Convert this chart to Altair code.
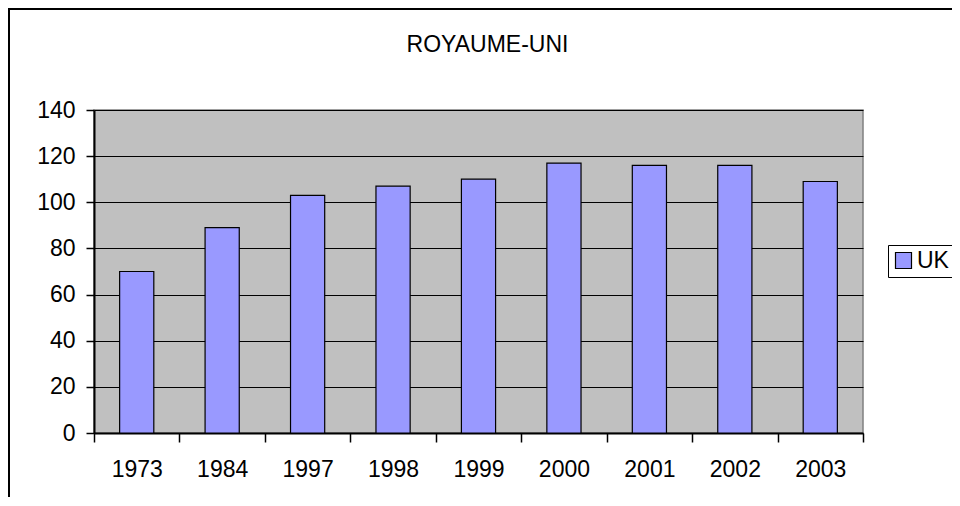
import altair as alt
import pandas as pd

years = ["1973", "1984", "1997", "1998", "1999", "2000", "2001", "2002", "2003"]
values = [70, 89, 103, 107, 110, 117, 116, 116, 109]
series = ["UK"] * len(years)
y_ticks = [0, 20, 40, 60, 80, 100, 120, 140]

df = pd.DataFrame({"year": years, "value": values, "series": series})

FONT = "Liberation Sans"
FS = 23

bars = alt.Chart(df).mark_bar(
    stroke="black", strokeWidth=1.2, width=alt.RelativeBandSize(0.4)
).encode(
    x=alt.X(
        "year:N", sort=years,
        scale=alt.Scale(paddingInner=0, paddingOuter=0),
        axis=alt.Axis(
            title=None, labelAngle=0, tickBand="extent", grid=False,
            labelFont=FONT, labelFontSize=FS, labelColor="black",
            tickColor="black", tickSize=9, tickWidth=1.5,
            domainColor="black", domainWidth=2, labelPadding=16,
        ),
    ),
    y=alt.Y(
        "value:Q",
        scale=alt.Scale(domain=[0, 140], nice=False),
        axis=alt.Axis(
            title=None, values=y_ticks, grid=True, gridColor="black", gridWidth=1.2,
            labelFont=FONT, labelFontSize=FS, labelColor="black",
            tickColor="black", tickSize=8, tickWidth=1.5,
            domainColor="black", domainWidth=2, labelPadding=11,
        ),
    ),
    color=alt.Color(
        "series:N",
        scale=alt.Scale(range=["#9999FF"]),
        legend=alt.Legend(
            title=None, orient="none", legendX=794, legendY=135,
            strokeColor="black", fillColor="white", padding=4,
            symbolType="square", symbolSize=256, symbolStrokeColor="black",
            symbolStrokeWidth=1.2, symbolOpacity=1,
            labelFont=FONT, labelFontSize=FS, labelColor="black", labelOffset=2,
        ),
    ),
)

frame_left = alt.Chart(df).mark_rule(color="black", strokeWidth=2).encode(
    x=alt.value(-85.5), y=alt.value(-102), y2=alt.value(400)
)
frame_top = alt.Chart(df).mark_rule(color="black", strokeWidth=2).encode(
    x=alt.value(-86), x2=alt.value(870), y=alt.value(-101.5)
)

chart = alt.layer(bars, frame_left, frame_top).properties(
    width=769,
    height=323,
    background="white",
    title=alt.TitleParams(
        "ROYAUME-UNI", font=FONT, fontSize=FS, fontWeight="normal", color="black",
        anchor="middle", frame="group", dx=9, offset=-73, baseline="bottom",
    ),
    autosize=alt.AutoSizeParams(type="none"),
    padding={"left": 86, "top": 102, "right": 89, "bottom": 64},
).configure_view(
    fill="#C0C0C0", stroke="#808080", strokeWidth=1.5
)

chart.save("out.html", embed_options={"renderer": "svg", "actions": False})
